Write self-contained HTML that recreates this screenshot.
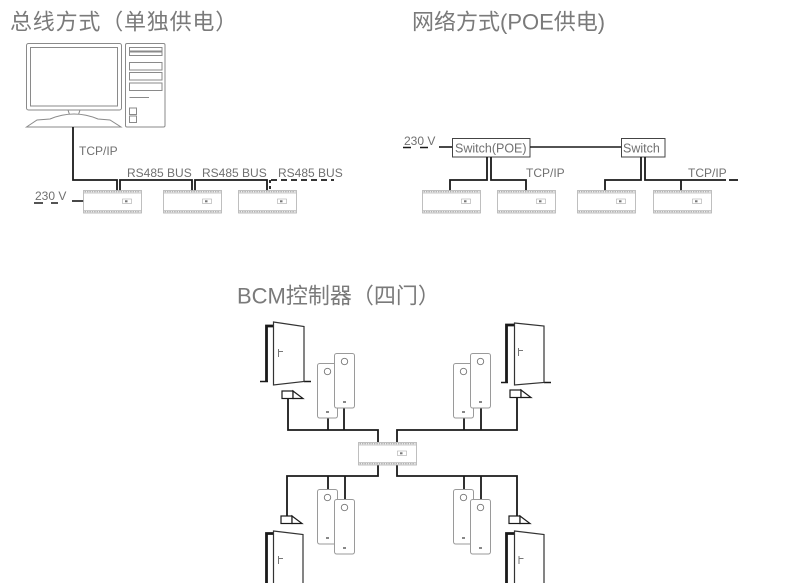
<!DOCTYPE html>
<html>
<head>
<meta charset="utf-8">
<style>
html,body{margin:0;padding:0;background:#fff;}
svg{display:block;}
.t{font-family:"Liberation Sans","Noto Sans CJK SC",sans-serif;fill:#7a7a7a;font-size:22px;}
.s{font-family:"Liberation Sans","Noto Sans CJK SC",sans-serif;fill:#707070;font-size:12px;}
.w{stroke:#1a1a1a;stroke-width:1.8;fill:none;}
.pc{stroke:#8a8a8a;stroke-width:1;fill:#fff;}
</style>
</head>
<body>
<svg width="800" height="583" viewBox="0 0 800 583" xmlns="http://www.w3.org/2000/svg">
<defs>
  <g id="ctl">
    <rect x="0.5" y="0.5" width="58" height="22.5" fill="#fff" stroke="#b0b0b0" stroke-width="0.8"/>
    <line x1="0.5" y1="3" x2="58.5" y2="3" stroke="#b8b8b8" stroke-width="0.7"/>
    <line x1="0.5" y1="20.5" x2="58.5" y2="20.5" stroke="#b8b8b8" stroke-width="0.7"/>
    <line x1="1.5" y1="1.7" x2="57.5" y2="1.7" stroke="#9a9a9a" stroke-width="1" stroke-dasharray="1.6 0.8"/>
    <line x1="1.5" y1="21.8" x2="57.5" y2="21.8" stroke="#9a9a9a" stroke-width="1" stroke-dasharray="1.6 0.8"/>
    <rect x="39.5" y="9" width="9" height="4.5" fill="#fff" stroke="#aaa" stroke-width="0.6"/>
    <rect x="42" y="10.3" width="2.5" height="2" fill="#777"/>
  </g>
  <g id="rdr">
    <rect x="0.5" y="0.5" width="20" height="54.5" rx="2.2" fill="#fff" stroke="#9a9a9a" stroke-width="1"/>
    <circle cx="10.5" cy="8.5" r="3.2" fill="#fff" stroke="#777" stroke-width="0.9"/>
    <rect x="9" y="48" width="3" height="2" fill="#888"/>
  </g>
  <g id="sen">
    <rect x="0" y="0" width="11" height="7.5" fill="#fff" stroke="#1a1a1a" stroke-width="1.2"/>
    <polygon points="11,0 21,7.5 11,7.5" fill="#fff" stroke="#1a1a1a" stroke-width="1.2"/>
  </g>
</defs>

<!-- Titles -->
<text class="t" x="10" y="29.5" style="letter-spacing:0.8px">总线方式（单独供电）</text>
<text class="t" x="412" y="29.5">网络方式(POE供电)</text>
<text class="t" x="237" y="303.5">BCM控制器（四门）</text>

<!-- Computer -->
<rect class="pc" x="26.5" y="43.5" width="95" height="66.5" rx="2"/>
<rect class="pc" x="30.5" y="47.5" width="87" height="58.5"/>
<polygon class="pc" points="68,110 80,110 78,116 70,116"/>
<path class="pc" d="M26.5,127 L37,120 L50,119 Q74,109 98,119 L110,120 L121,127 Z"/>
<rect class="pc" x="125.5" y="43.5" width="39.5" height="83.5" rx="1.5"/>
<rect class="pc" x="129.5" y="47.5" width="32.5" height="3.5"/>
<rect class="pc" x="129.5" y="52" width="32.5" height="3.5"/>
<rect class="pc" x="129.5" y="62.5" width="32.5" height="7.5"/>
<rect class="pc" x="129.5" y="72.5" width="32.5" height="7.5"/>
<rect class="pc" x="129.5" y="83" width="32.5" height="7.5"/>
<line x1="129.5" y1="97.5" x2="149" y2="97.5" stroke="#8a8a8a" stroke-width="1"/>
<rect class="pc" x="129.5" y="108" width="7" height="6.5"/>
<rect class="pc" x="129.5" y="116" width="7" height="6.5"/>

<!-- Bus section -->
<polyline class="w" points="73,127 73,180 117,180 117,191"/>
<polyline class="w" points="120,191 120,180 192,180 192,191"/>
<polyline class="w" points="195,191 195,180 267,180 267,191"/>
<line x1="270" y1="180" x2="270" y2="191" stroke="#1a1a1a" stroke-width="1.8" stroke-dasharray="3 3"/>
<line x1="271" y1="180" x2="334" y2="180" stroke="#1a1a1a" stroke-width="1.8" stroke-dasharray="6 4"/>
<text class="s" x="79" y="155">TCP/IP</text>
<text class="s" x="127" y="177">RS485 BUS</text>
<text class="s" x="202" y="177">RS485 BUS</text>
<text class="s" x="278" y="177">RS485 BUS</text>
<text class="s" x="35" y="200">230 V</text>
<line x1="34" y1="203" x2="43" y2="203" stroke="#1a1a1a" stroke-width="1.5"/>
<line x1="51" y1="203" x2="58" y2="203" stroke="#1a1a1a" stroke-width="1.5"/>
<line x1="72" y1="201" x2="84" y2="201" stroke="#1a1a1a" stroke-width="1.6"/>
<use href="#ctl" x="83" y="190"/>
<use href="#ctl" x="163" y="190"/>
<use href="#ctl" x="238" y="190"/>

<!-- Network section -->
<text class="s" x="404" y="145">230 V</text>
<line x1="403" y1="147.5" x2="411" y2="147.5" stroke="#1a1a1a" stroke-width="1.5"/>
<line x1="420" y1="147.5" x2="428" y2="147.5" stroke="#1a1a1a" stroke-width="1.5"/>
<line x1="439" y1="147" x2="452" y2="147" stroke="#1a1a1a" stroke-width="1.6"/>
<rect x="452.5" y="138.5" width="77.5" height="18.5" fill="#fff" stroke="#444" stroke-width="1"/>
<text class="s" x="455" y="152.5" style="font-size:12.5px">Switch(POE)</text>
<line x1="530" y1="147" x2="621" y2="147" stroke="#1a1a1a" stroke-width="1.6"/>
<rect x="621.5" y="138.5" width="43.5" height="18.5" fill="#fff" stroke="#444" stroke-width="1"/>
<text class="s" x="623" y="152.5" style="font-size:12.5px">Switch</text>
<polyline class="w" points="487,157 487,180 450,180 450,191"/>
<polyline class="w" points="491,157 491,180 526,180 526,191"/>
<polyline class="w" points="641,157 641,180 605,180 605,191"/>
<polyline class="w" points="645,157 645,180 726,180"/>
<line class="w" x1="681" y1="180" x2="681" y2="191"/>
<line class="w" x1="729" y1="180" x2="738" y2="180"/>
<text class="s" x="526" y="177">TCP/IP</text>
<text class="s" x="688" y="177">TCP/IP</text>
<use href="#ctl" x="422" y="190"/>
<use href="#ctl" x="497" y="190"/>
<use href="#ctl" x="577" y="190"/>
<use href="#ctl" x="653" y="190"/>

<!-- BCM section wiring -->
<polyline class="w" points="288,398 288,430 378,430 378,442"/>
<polyline class="w" points="517,398 517,430 397,430 397,442"/>
<line class="w" x1="328" y1="418" x2="328" y2="430"/>
<line class="w" x1="344" y1="408" x2="344" y2="430"/>
<line class="w" x1="464" y1="418" x2="464" y2="430"/>
<line class="w" x1="481" y1="408" x2="481" y2="430"/>
<polyline class="w" points="378,465 378,476 287,476 287,516"/>
<polyline class="w" points="397,465 397,476 517,476 517,516"/>
<line class="w" x1="328" y1="476" x2="328" y2="489"/>
<line class="w" x1="345" y1="476" x2="345" y2="499"/>
<line class="w" x1="464" y1="476" x2="464" y2="489"/>
<line class="w" x1="481" y1="476" x2="481" y2="499"/>

<use href="#ctl" x="358" y="442"/>

<!-- Readers -->
<use href="#rdr" x="317" y="363"/>
<use href="#rdr" x="334" y="353"/>
<use href="#rdr" x="453" y="363"/>
<use href="#rdr" x="470" y="353"/>
<use href="#rdr" x="317" y="489"/>
<use href="#rdr" x="334" y="499"/>
<use href="#rdr" x="453" y="489"/>
<use href="#rdr" x="470" y="499"/>

<!-- Sensors -->
<use href="#sen" x="282" y="391"/>
<use href="#sen" x="510" y="390"/>
<use href="#sen" x="281" y="516"/>
<use href="#sen" x="509" y="516"/>

<!-- Doors top-left -->
<polyline points="266.5,382 266.5,326 273,326" fill="none" stroke="#1a1a1a" stroke-width="2.8"/>
<line x1="260" y1="381.5" x2="268" y2="381.5" stroke="#1a1a1a" stroke-width="1.5"/>
<line x1="304" y1="381.5" x2="311" y2="381.5" stroke="#1a1a1a" stroke-width="1.5"/>
<polygon points="273.5,322 304,326.5 304,381.5 273.5,385" fill="#fff" stroke="#333" stroke-width="1.2"/>
<path d="M278.5,349 L278.5,357 M278.5,351.5 L283,351.5" stroke="#777" stroke-width="1" fill="none"/>

<!-- Door top-right -->
<polyline points="506.5,383 506.5,325 514,325" fill="none" stroke="#1a1a1a" stroke-width="2.8"/>
<line x1="501" y1="382.5" x2="508" y2="382.5" stroke="#1a1a1a" stroke-width="1.5"/>
<line x1="544" y1="382.5" x2="551" y2="382.5" stroke="#1a1a1a" stroke-width="1.5"/>
<polygon points="514.5,323 544,326 544,382.5 514.5,385" fill="#fff" stroke="#333" stroke-width="1.2"/>
<path d="M518.5,348 L518.5,356 M518.5,350.5 L523,350.5" stroke="#777" stroke-width="1" fill="none"/>

<!-- Door bottom-left -->
<polyline points="266.5,590 266.5,533.5 273,533.5" fill="none" stroke="#1a1a1a" stroke-width="2.8"/>
<polygon points="273.5,531 303,534.5 303,600 273.5,600" fill="#fff" stroke="#333" stroke-width="1.2"/>
<path d="M278.5,556 L278.5,564 M278.5,558.5 L283,558.5" stroke="#777" stroke-width="1" fill="none"/>

<!-- Door bottom-right -->
<polyline points="506.5,590 506.5,533.5 514,533.5" fill="none" stroke="#1a1a1a" stroke-width="2.8"/>
<polygon points="514.5,531 544,534.5 544,600 514.5,600" fill="#fff" stroke="#333" stroke-width="1.2"/>
<path d="M519,556 L519,564 M519,558.5 L523.5,558.5" stroke="#777" stroke-width="1" fill="none"/>
</svg>
</body>
</html>
